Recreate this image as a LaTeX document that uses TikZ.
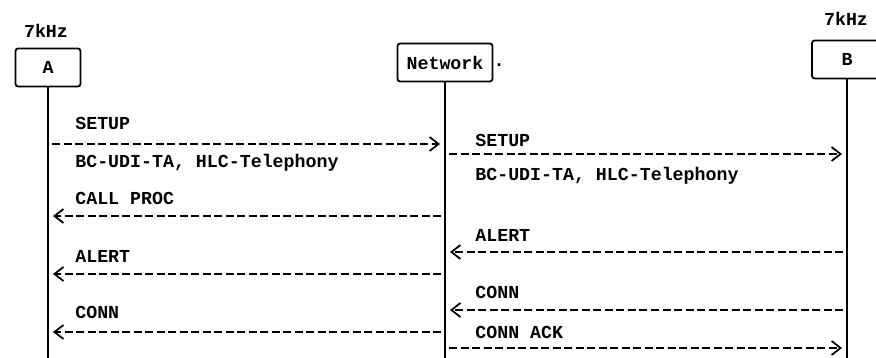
\documentclass[tikz,border=0pt]{standalone}
\usepackage{fontspec}
\setmonofont{Liberation Mono}
\usepackage{tikz}
\usetikzlibrary{arrows.meta, positioning}

\begin{document}
\begin{tikzpicture}[
    every node/.style={font=\ttfamily\bfseries\fontsize{10.4}{12}\selectfont},
    party/.style={rectangle, rounded corners=1.5pt, draw, line width=1pt, minimum height=0.76cm, inner sep=2pt},
    lifeline/.style={line width=1pt},
    msg/.style={line width=1pt, dash pattern=on 0.16cm off 0.07cm, -{Straight Barb[length=1.8mm, width=2.8mm, line width=1pt]}, shorten >=0.1cm, shorten <=0.08cm},
    msglabel/.style={anchor=west, inner sep=0pt},
]
\useasboundingbox (0,0) rectangle (17.52,-7.16);
% parties
\node[party, minimum width=1.3cm] (A) at (0.96,-1.35) {A};
\node[party, minimum width=1.9cm] (net) at (8.9,-1.25) {Network};
\node[party, minimum width=1.4cm] (B) at (16.94,-1.19) {B};
\node[anchor=south] (fa) at (0.92,-0.88) {7kHz};
\node[anchor=south] (fb) at (16.92,-0.64) {7kHz};
\node[inner sep=0pt] (dot) at (9.98,-1.3) {.};
\coordinate (Aend) at (0.96,-7.16);
\coordinate (netend) at (8.9,-7.16);
\coordinate (Bend) at (16.94,-7.16);
\draw[lifeline] (A) -- (Aend);
\draw[lifeline] (net) -- (netend);
\draw[lifeline] (B) -- (Bend);
% message rows
\foreach \name/\y in {m1/-2.88, m2/-3.08, m3/-4.32, m4/-5.04, m5/-5.48, m6/-6.2, m7/-6.64, m8/-6.96} {
    \coordinate (a-\name) at (0.96,\y);
    \coordinate (n-\name) at (8.9,\y);
    \coordinate (b-\name) at (16.94,\y);
}
\draw[msg] (a-m1) -- (n-m1);
\draw[msg] (n-m2) -- (b-m2);
\draw[msg] (n-m3) -- (a-m3);
\draw[msg] (b-m4) -- (n-m4);
\draw[msg] (n-m5) -- (a-m5);
\draw[msg] (b-m6) -- (n-m6);
\draw[msg] (n-m7) -- (a-m7);
\draw[msg] (n-m8) -- (b-m8);
\node[msglabel] (l1) at (1.5,-2.46) {SETUP};
\node[msglabel] (l1b) at (1.5,-3.26) {BC-UDI-TA, HLC-Telephony};
\node[msglabel] (l2) at (9.5,-2.8) {SETUP};
\node[msglabel] (l2b) at (9.5,-3.52) {BC-UDI-TA, HLC-Telephony};
\node[msglabel] (l3) at (1.5,-3.96) {CALL PROC};
\node[msglabel] (l4) at (9.5,-4.7) {ALERT};
\node[msglabel] (l5) at (1.5,-5.12) {ALERT};
\node[msglabel] (l6) at (9.5,-5.84) {CONN};
\node[msglabel] (l7) at (1.5,-6.24) {CONN};
\node[msglabel] (l8) at (9.5,-6.64) {CONN ACK};
\end{tikzpicture}
\end{document}
